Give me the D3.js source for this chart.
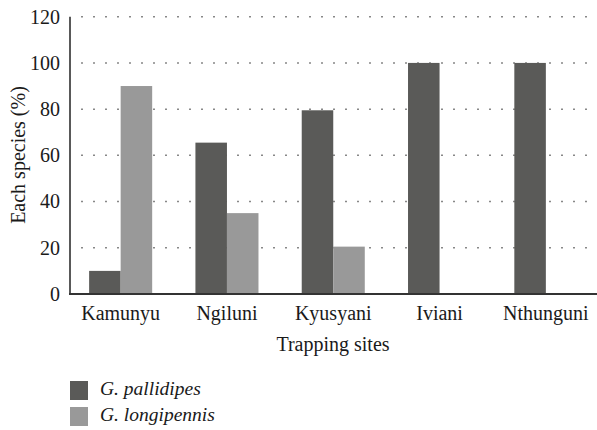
<!DOCTYPE html>
<html>
<head>
<meta charset="utf-8">
<script src="https://cdn.jsdelivr.net/npm/d3@7"></script>
<style>
  body { margin: 0; background: #fff; }
  svg text { font-family: "Liberation Serif", "DejaVu Serif", serif; fill: #1a1a1a; }
</style>
</head>
<body>
<div id="chart"></div>
<script>
// data
const sites = ["Kamunyu", "Ngiluni", "Kyusyani", "Iviani", "Nthunguni"];
const series = ["G. pallidipes", "G. longipennis"];
const pallidipes = [10, 65.5, 79.5, 100, 100];
const longipennis = [90, 35, 20.5, 0, 0];
const yTicks = [0, 20, 40, 60, 80, 100, 120];
const colors = ["#5a5a58", "#999999"];

const W = 597, H = 430;
const svg = d3.select("#chart").append("svg").attr("width", W).attr("height", H);

const y = d3.scaleLinear().domain([0, 120]).range([294, 16.7]);
const x0 = d3.scaleBand().domain(sites).range([67.5, 599]);
const x1 = d3.scaleBand().domain(series).range([0, x0.bandwidth()]).paddingOuter(0.686);

// dotted grid lines
svg.append("g").selectAll("line")
  .data(yTicks.filter(d => d > 0))
  .join("line")
  .attr("x1", 72).attr("x2", W)
  .attr("y1", d => y(d)).attr("y2", d => y(d))
  .style("stroke", "#888")
  .style("stroke-width", 1.5)
  .style("stroke-dasharray", "2,10")
  .style("stroke-dashoffset", -9);

// bars
const rows = sites.map((s, i) => ({ site: s, vals: [pallidipes[i], longipennis[i]] }));
const groups = svg.append("g").selectAll("g")
  .data(rows)
  .join("g")
  .attr("transform", d => `translate(${x0(d.site)},0)`);

groups.selectAll("rect")
  .data(d => d.vals.map((v, k) => ({ key: series[k], v: v, k: k })))
  .join("rect")
  .attr("x", d => x1(d.key))
  .attr("width", x1.bandwidth())
  .attr("y", d => y(d.v))
  .attr("height", d => y(0) - y(d.v))
  .attr("fill", d => colors[d.k]);

// axes lines
svg.append("line")
  .attr("x1", 70).attr("x2", 70).attr("y1", y(120)).attr("y2", y(0) + 1)
  .style("stroke", "#222").style("stroke-width", 1.5);
svg.append("line")
  .attr("x1", 69).attr("x2", W).attr("y1", y(0)).attr("y2", y(0))
  .style("stroke", "#333").style("stroke-width", 2);

// y tick labels
svg.append("g").selectAll("text")
  .data(yTicks)
  .join("text")
  .attr("x", 60)
  .attr("y", d => y(d))
  .attr("dy", "0.34em")
  .attr("text-anchor", "end")
  .style("font-size", "20px")
  .text(d => d);

// category labels
svg.append("g").selectAll("text")
  .data(sites)
  .join("text")
  .attr("x", d => x0(d) + x0.bandwidth() / 2)
  .attr("y", 320)
  .attr("text-anchor", "middle")
  .style("font-size", "20px")
  .text(d => d);

// axis titles
svg.append("text")
  .attr("x", 333).attr("y", 351)
  .attr("text-anchor", "middle")
  .style("font-size", "20px")
  .text("Trapping sites");

svg.append("text")
  .attr("transform", "translate(25,155) rotate(-90)")
  .attr("text-anchor", "middle")
  .style("font-size", "20px")
  .text("Each species (%)");

// legend
const legend = svg.append("g").selectAll("g")
  .data(series)
  .join("g")
  .attr("transform", (d, i) => `translate(70,${381 + i * 26})`);
legend.append("rect")
  .attr("width", 18).attr("height", 19)
  .attr("fill", (d, i) => colors[i]);
legend.append("text")
  .attr("x", 30).attr("y", 14)
  .style("font-size", "19.5px")
  .style("font-style", "italic")
  .text(d => d);
</script>
</body>
</html>
